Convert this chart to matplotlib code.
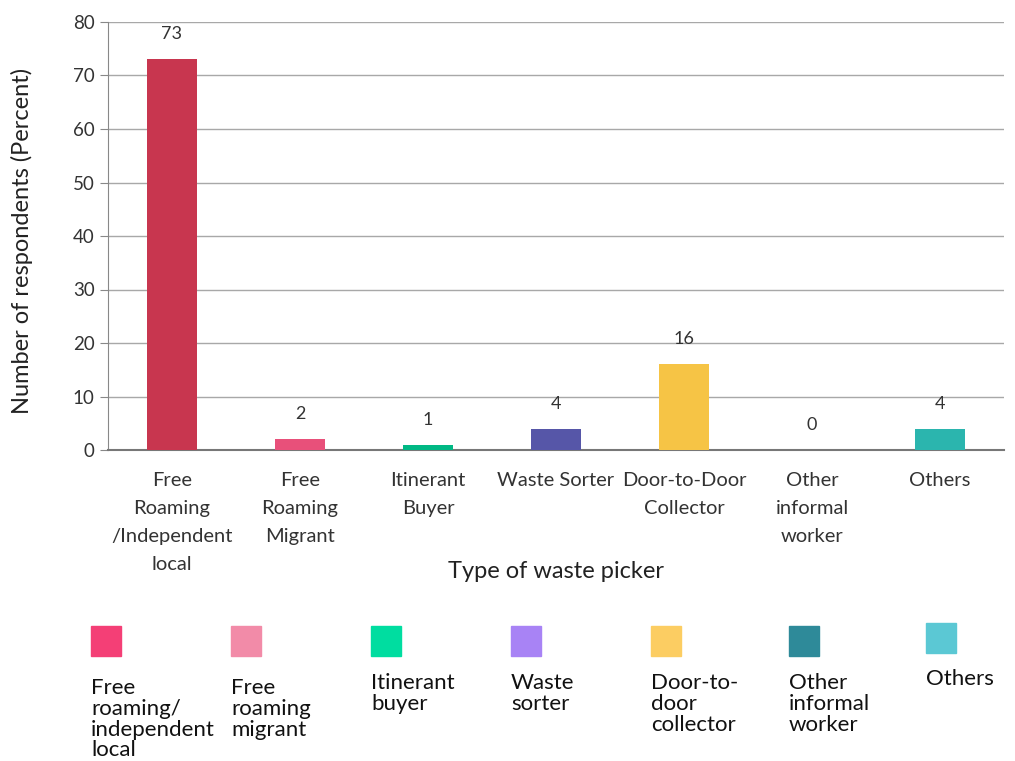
import matplotlib
matplotlib.use("Agg")
import matplotlib.pyplot as plt
from matplotlib.patches import Rectangle

plt.rcParams['font.family'] = ['Lato', 'DejaVu Sans']

categories = ["Free\nRoaming\n/Independent\nlocal", "Free\nRoaming\nMigrant",
              "Itinerant\nBuyer", "Waste Sorter", "Door-to-Door\nCollector",
              "Other\ninformal\nworker", "Others"]
values = [73, 2, 1, 4, 16, 0, 4]
bar_colors = ["#C8364F", "#E8507A", "#00B884", "#5656A8", "#F6C445", "#2E7F8A", "#2BB5AE"]

legend_labels = ["Free\nroaming/\nindependent\nlocal", "Free\nroaming\nmigrant",
                 "Itinerant\nbuyer", "Waste\nsorter", "Door-to-\ndoor\ncollector",
                 "Other\ninformal\nworker", "Others"]
legend_colors = ["#F43F76", "#F28BA8", "#00DDA0", "#A883F5", "#FCCD62", "#2E8A99", "#5BC8D4"]

W, H = 1015, 761
fig = plt.figure(figsize=(W / 100, H / 100), dpi=100)
ax = fig.add_axes([108 / W, 1 - 450 / H, (1004 - 108) / W, (450 - 22) / H])

x = list(range(len(categories)))
ax.bar(x, values, width=0.39, color=bar_colors, zorder=3)
for xi, v in zip(x, values):
    ax.annotate(str(v), (xi, v), xytext=(0, 18), textcoords="offset points",
                ha="center", va="center", fontsize=13, color="#333333")

ax.set_xlim(-0.5, len(categories) - 0.5)
ax.set_ylim(0, 80)
ax.set_yticks(range(0, 81, 10))
ax.yaxis.grid(True, color="#A8A8A8", linewidth=1.0, zorder=0)
ax.set_axisbelow(True)
ax.set_xticks(x)
ax.set_xticklabels(categories, fontsize=14.5, color="#333333", linespacing=1.78)
ax.tick_params(axis="x", length=0, pad=16)
ax.tick_params(axis="y", labelsize=13.5, labelcolor="#333333", color="#888888", length=6)
for side in ["top", "right"]:
    ax.spines[side].set_visible(False)
ax.spines["left"].set_color("#888888")
ax.spines["bottom"].set_color("#777777")
ax.spines["bottom"].set_linewidth(1.5)

fig.text(22 / W, 1 - 241 / H, "Number of respondents (Percent)", fontsize=17,
         color="#222222", rotation=90, ha="center", va="center")
fig.text(556 / W, 1 - 572 / H, "Type of waste picker", fontsize=17, color="#222222",
         ha="center", va="center")

# Swatch legend below the chart
sw_x = [91, 231, 371, 511, 651, 789, 926]
for i, (lbl, col) in enumerate(zip(legend_labels, legend_colors)):
    top = 623 if i == len(legend_labels) - 1 else 626
    fig.patches.append(Rectangle((sw_x[i] / W, 1 - (top + 30) / H), 30 / W, 30 / H,
                                 transform=fig.transFigure, color=col))
    ty = 678 if i < 2 else 673
    if i == len(legend_labels) - 1:
        ty = 669
    fig.text(sw_x[i] / W, 1 - ty / H, lbl, fontsize=16, color="#111111",
             ha="left", va="top", linespacing=1.05)

fig.savefig("out.png", dpi=100)
